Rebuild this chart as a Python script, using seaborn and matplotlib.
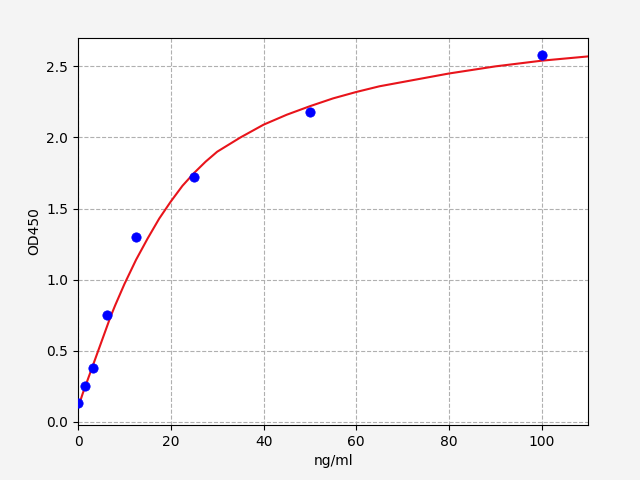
import matplotlib
matplotlib.use("Agg")
import matplotlib.pyplot as plt
import seaborn as sns

# standard points
conc = [0, 1.56, 3.125, 6.25, 12.5, 25, 50, 100]
od = [0.13, 0.25, 0.38, 0.75, 1.30, 1.72, 2.18, 2.58]

# fitted curve
curve_x = [0, 1, 2, 3, 4, 5, 6, 7, 8, 10, 12.5, 15, 17.5, 20, 22.5, 25, 27.5, 30, 35, 40, 45,
           50, 55, 60, 65, 70, 75, 80, 90, 100, 110]
curve_y = [0.10, 0.20, 0.29, 0.38, 0.47, 0.56, 0.65, 0.74, 0.82, 0.97, 1.14, 1.29, 1.43, 1.55,
           1.66, 1.75, 1.83, 1.90, 2.00, 2.09, 2.16, 2.22, 2.275, 2.32, 2.36, 2.39, 2.42, 2.45,
           2.50, 2.54, 2.57]

fig, ax = plt.subplots(figsize=(6.4, 4.8), dpi=100)
fig.patch.set_facecolor("#f4f4f4")
fig.subplots_adjust(left=0.122, right=0.919, top=0.921, bottom=0.115)

sns.lineplot(x=curve_x, y=curve_y, color="#e8141b", linewidth=1.5, ax=ax, zorder=2)
sns.scatterplot(x=conc, y=od, color="blue", s=45, edgecolor="blue", ax=ax, zorder=3)

ax.grid(True, linestyle="--", color="#b0b0b0", linewidth=0.8)
ax.set_axisbelow(True)
ax.set_xlim(0, 110)
ax.set_ylim(-0.02, 2.7)
ax.set_xlabel("ng/ml")
ax.set_ylabel("OD450")

fig.savefig("out.png", facecolor=fig.get_facecolor())
